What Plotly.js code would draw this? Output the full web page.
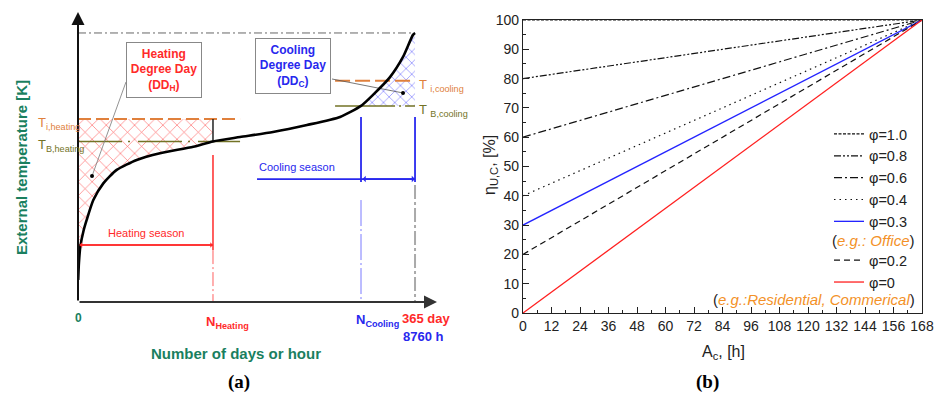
<!DOCTYPE html>
<html><head><meta charset="utf-8">
<script src="https://cdn.plot.ly/plotly-3.0.1.min.js"></script>
<style>html,body{margin:0;padding:0;background:#fff}#chart{width:936px;height:394px}</style>
</head><body><div id="chart"></div>
<script>
// ---------- panel (a): duration curve of external temperature (schematic units) ----------
const curveDay  = [0.2, 1.0, 2.5, 6.0, 9.4, 16.6, 27.4, 41.9, 63.6, 88.8, 124.9, 146.2, 175.5, 211.2, 248.0, 283.8, 306.5, 319.5, 337.9, 352.0, 362.8, 365];
const curveTemp = [8.2, 14.5, 20.6, 26.5, 30.5, 37.9, 44.1, 49.1, 52.8, 55.3, 57.7, 59.7, 61.3, 63.2, 65.8, 68.8, 72.9, 77.0, 83.6, 91.1, 99.3, 100];
const tIHeat = 68.0, tBHeat = 59.7, tICool = 82.2, tBCool = 72.9, tMax = 100;
const nHeat = 146.2, nCool = 306.5, nYear = 365;
const heatLineEnd = 175.5, coolLineStart = 278.4;
const heatSeasonT = 21.2, coolSeasonT = 45.7, coolSeasonStart = 193.9;

// ---------- panel (b): utilisation factor vs A_c ----------
const acHours = [0, 168];
const phiLabels = ['φ=1.0', 'φ=0.8', 'φ=0.6', 'φ=0.4', 'φ=0.3', 'φ=0.2', 'φ=0'];
const etaPhi10 = [100, 100];
const etaPhi08 = [80, 100];
const etaPhi06 = [60, 100];
const etaPhi04 = [40, 100];
const etaPhi03 = [30, 100];
const etaPhi02 = [20, 100];
const etaPhi00 = [0, 100];

const RED = '#ff2a2a', BLUE = '#2828ee', ORANGE = '#e0803c', OLIVE = '#737326', GREEN = '#1a7f5f';
const px = v => v / 936, py = v => 1 - v / 394;

// hatch polygons built from the curve
const hx = [], hy = [];
curveDay.forEach((d, i) => { if (d <= nHeat) { hx.push(d); hy.push(curveTemp[i]); } });
hx.push(nHeat, 0, 0); hy.push(tIHeat, tIHeat, curveTemp[0]);
const cx = [], cy = [];
curveDay.forEach((d, i) => { if (d >= nCool) { cx.push(d); cy.push(curveTemp[i]); } });
cx.push(nYear, nCool); cy.push(tBCool, tBCool);

const A = {xaxis: 'x', yaxis: 'y', showlegend: false, hoverinfo: 'skip', mode: 'lines'};
const seg = (x, y, color, width, dash) => Object.assign({}, A, {x, y, line: {color, width, dash: dash || 'solid'}});

const traces = [
  Object.assign({}, A, {x: hx, y: hy, fill: 'toself', fillcolor: 'rgba(0,0,0,0)', line: {width: 0},
    fillpattern: {shape: 'x', fgcolor: 'rgba(255,70,70,0.85)', bgcolor: 'rgba(255,255,255,0)', size: 10, solidity: 0.12}}),
  Object.assign({}, A, {x: cx, y: cy, fill: 'toself', fillcolor: 'rgba(0,0,0,0)', line: {width: 0},
    fillpattern: {shape: 'x', fgcolor: 'rgba(80,80,255,0.85)', bgcolor: 'rgba(255,255,255,0)', size: 8, solidity: 0.14}}),
  seg([0, nYear], [tMax, tMax], '#666', 1, '8px,3px,2px,3px'),
  seg([0, heatLineEnd], [tIHeat, tIHeat], ORANGE, 2, '13px,5px'),
  seg([0, heatLineEnd], [tBHeat, tBHeat], OLIVE, 1.5, '44px,6px,2px,8px'),
  seg([coolLineStart, nYear], [tICool, tICool], ORANGE, 2, '15px,5px'),
  seg([coolLineStart, nYear], [tBCool, tBCool], OLIVE, 1.5, '60px,4px,2px,4px'),
  seg([nHeat, nHeat], [tBHeat, tIHeat], '#222', 1.5),
  seg([nHeat, nHeat], [54.6, 19.3], RED, 1.5),
  seg([nHeat, nHeat], [19.3, 0], '#ff6060', 1, '14px,3px,2px,3px'),
  seg([0, nHeat], [heatSeasonT, heatSeasonT], RED, 1.5),
  seg([nCool, nCool], [68.8, 44.6], BLUE, 1.8),
  seg([nYear, nYear], [68.8, 44.6], BLUE, 1.8),
  seg([nCool, nCool], [37.9, 0], '#7a7aff', 1, '26px,3px,2px,3px'),
  seg([nYear, nYear], [43.5, 0], '#aaaaaa', 2, '14px,3px,3px,3px'),
  seg([coolSeasonStart, nYear], [coolSeasonT, coolSeasonT], BLUE, 1.8),
  seg([52.0, 15.2], [81.8, 46.8], '#777', 0.8),
  seg([275.1, 352.0], [82.9, 77.7], '#555', 0.8),
  Object.assign({}, A, {x: [15.2, 352.0], y: [46.8, 77.7], mode: 'markers', marker: {color: '#000', size: 4}}),
  Object.assign({}, A, {x: curveDay, y: curveTemp, line: {color: '#000', width: 2.6, shape: 'spline', smoothing: 0.6}})
];

const B = {xaxis: 'x2', yaxis: 'y2', mode: 'lines', x: acHours, legendgroup: 'g1'};
traces.push(
  Object.assign({}, B, {y: etaPhi10, name: phiLabels[0], line: {color: '#111', width: 1.2, dash: '3px,1.5px'}}),
  Object.assign({}, B, {y: etaPhi08, name: phiLabels[1], line: {color: '#111', width: 1.2, dash: '7px,2px,2px,2px,2px,2px'}}),
  Object.assign({}, B, {y: etaPhi06, name: phiLabels[2], line: {color: '#111', width: 1.2, dash: '8px,3px,2px,3px'}}),
  Object.assign({}, B, {y: etaPhi04, name: phiLabels[3], line: {color: '#111', width: 1.2, dash: '1.5px,4px'}}),
  Object.assign({}, B, {y: etaPhi03, name: phiLabels[4], line: {color: '#2424ff', width: 1.3}}),
  Object.assign({}, B, {y: etaPhi02, name: phiLabels[5], line: {color: '#111', width: 1.2, dash: '6px,4px'}, legendgroup: 'g2'}),
  Object.assign({}, B, {y: etaPhi00, name: phiLabels[6], line: {color: '#ff2020', width: 1.3}, legendgroup: 'g2'})
);

const arrowAnn = (x, y, ax, ay, color, width, side, head, size) => ({
  x, y, ax, ay, xref: 'x', yref: 'y', axref: 'x', ayref: 'y', text: '', showarrow: true,
  arrowcolor: color, arrowwidth: width, arrowhead: head, arrowsize: size, arrowside: side || 'end', standoff: 0, startstandoff: 0
});
const txt = (text, x, y, opts) => Object.assign({text, x, y, xref: 'paper', yref: 'paper', showarrow: false,
  xanchor: 'center', yanchor: 'middle'}, opts || {});

const annotations = [
  arrowAnn(0, 107.8, 0, 0, '#111', 2, 'end', 2, 1.3),
  arrowAnn(388.8, 0, 0, 0, '#333', 2, 'end', 2, 1.3),
  arrowAnn(nHeat, heatSeasonT, 0, heatSeasonT, RED, 1.5, 'end+start', 1, 0.6),
  arrowAnn(nYear, coolSeasonT, nCool, coolSeasonT, BLUE, 1.8, 'end+start', 1, 0.6),
  txt('<b>Heating<br>Degree Day<br>(DD<sub>H</sub>)</b>', px(164), py(70), {font: {color: RED, size: 12}, bordercolor: '#888', borderwidth: 1, bgcolor: '#fff', width: 72, height: 52}),
  txt('<b>Cooling<br>Degree Day<br>(DD<sub>C</sub>)</b>', px(293), py(65.5), {font: {color: BLUE, size: 12}, bordercolor: '#888', borderwidth: 1, bgcolor: '#fff', width: 72, height: 52}),
  txt('Heating season', nHeat / 2, heatSeasonT, {xref: 'x', yref: 'y', yshift: 12, font: {color: RED, size: 11}}),
  txt('Cooling season', 237.2, coolSeasonT, {xref: 'x', yref: 'y', yshift: 12, font: {color: BLUE, size: 11}}),
  txt('T<sub>i,heating</sub>', px(36), tIHeat, {yref: 'y', xanchor: 'left', yshift: -4, font: {color: ORANGE, size: 13}}),
  txt('T<sub>B,heating</sub>', px(36), tBHeat, {yref: 'y', xanchor: 'left', yshift: -4, font: {color: OLIVE, size: 13}}),
  txt('T <sub>i,cooling</sub>', px(417), tICool, {yref: 'y', xanchor: 'left', yshift: -5, font: {color: ORANGE, size: 13}}),
  txt('T <sub>B,cooling</sub>', px(417), tBCool, {yref: 'y', xanchor: 'left', yshift: -5, font: {color: OLIVE, size: 13}}),
  txt('<b>0</b>', 0, py(318), {xref: 'x', font: {color: GREEN, size: 12}}),
  txt('<b>N<sub>Heating</sub></b>', nHeat, py(322), {xref: 'x', xanchor: 'left', xshift: -9, font: {color: RED, size: 13}}),
  txt('<b>N<sub>Cooling</sub></b>', nCool, py(320), {xref: 'x', xanchor: 'left', xshift: -7, font: {color: BLUE, size: 13}}),
  txt('<b>365 day</b>', nYear, py(318), {xref: 'x', xanchor: 'left', xshift: -15, font: {color: RED, size: 13}}),
  txt('<b>8760 h</b>', nYear, py(336), {xref: 'x', xanchor: 'left', xshift: -14, font: {color: BLUE, size: 13}}),
  txt('<b>Number of days or hour</b>', px(236), py(353), {font: {color: GREEN, size: 15}}),
  txt('<b>External temperature [K]</b>', px(22), py(168), {textangle: -90, font: {color: GREEN, size: 15}}),
  txt('<b>(a)</b>', px(239), py(382), {font: {family: 'Liberation Serif, DejaVu Serif, serif', size: 19, color: '#000'}}),
  txt('<b>(b)</b>', px(707), py(382), {font: {family: 'Liberation Serif, DejaVu Serif, serif', size: 19, color: '#000'}}),
  txt('A<sub>c</sub>, [h]', px(723), py(352), {font: {size: 16, color: '#222'}}),
  txt('η<sub>U,C</sub>, [%]', px(490), py(165), {textangle: -90, font: {size: 16, color: '#222'}}),
  txt('(<i><span style="color:#f39127">e.g.: Office</span></i>)', px(917), py(240), {xanchor: 'right', font: {size: 15, color: '#222'}}),
  txt('(<i><span style="color:#f39127">e.g.:Residential, Commerical</span></i>)', px(917), py(299), {xanchor: 'right', font: {size: 15, color: '#222'}})
];

const axB = {showline: true, linecolor: '#222', linewidth: 1.2, mirror: true, showgrid: false, zeroline: false,
  ticks: 'inside', ticklen: 6, tickwidth: 1, tickcolor: '#222', tickfont: {size: 14, color: '#222'}};

const layout = {
  width: 936, height: 394, margin: {l: 0, r: 0, t: 0, b: 0},
  paper_bgcolor: '#fff', plot_bgcolor: 'rgba(0,0,0,0)',
  font: {family: 'Liberation Sans, Arial, sans-serif', color: '#222'},
  xaxis: {domain: [px(78), px(437)], range: [0, 388.8], visible: false, fixedrange: true},
  yaxis: {domain: [py(302), py(12)], range: [0, 107.8], visible: false, fixedrange: true},
  xaxis2: Object.assign({}, axB, {domain: [px(523), px(922)], range: [0, 168], tick0: 0, dtick: 12, anchor: 'y2',
    minor: {dtick: 6, ticks: 'inside', ticklen: 3, tickcolor: '#222'}}),
  yaxis2: Object.assign({}, axB, {domain: [py(313), py(20)], range: [0, 100], tick0: 0, dtick: 10, anchor: 'x2',
    minor: {dtick: 5, ticks: 'inside', ticklen: 3, tickcolor: '#222'}}),
  showlegend: true,
  legend: {x: px(913), y: py(118), xanchor: 'right', yanchor: 'top', bgcolor: 'rgba(0,0,0,0)',
    font: {size: 14.5, color: '#222'}, traceorder: 'grouped', tracegroupgap: 17, itemwidth: 30},
  annotations
};

Plotly.newPlot('chart', traces, layout, {displayModeBar: false, staticPlot: true});
</script></body></html>
